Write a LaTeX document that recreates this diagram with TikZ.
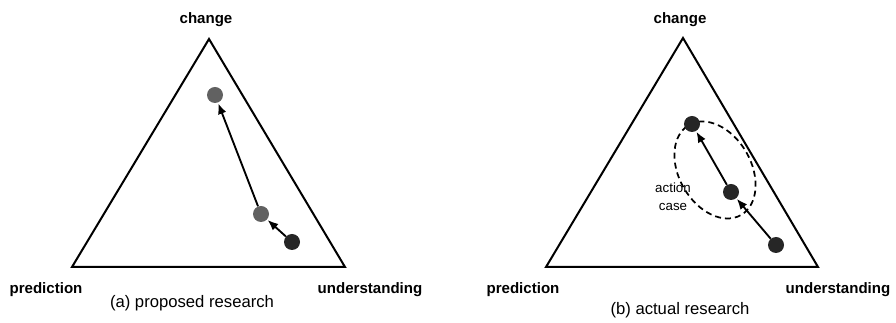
\documentclass[tikz,border=0pt]{standalone}
\usepackage{fontspec}
\setmainfont{Liberation Sans}
\usetikzlibrary{arrows.meta,positioning,calc}

\begin{document}
\begin{tikzpicture}[
        x=0.75pt, y=-0.75pt,
        side/.style={line width=1.5pt, line join=miter},
        corner/.style={font=\fontsize{11.3}{13}\selectfont\bfseries},
        caption/.style={font=\fontsize{12.5}{15}\selectfont},
        dot/.style={circle, minimum size=12pt, inner sep=0pt, fill=black!85},
        pale/.style={dot, fill=black!62},
        link/.style={line width=1.4pt, -{Latex[length=8pt,width=6.5pt]}, shorten >=0.5pt}
    ]
    \useasboundingbox (0,0) rectangle (896,323);

    % (a) proposed research
    \coordinate (aP) at (72,267);
    \coordinate (aU) at (345,267);
    \coordinate (aC) at (209,39);
    \draw[side] (aP) -- (aU) -- (aC) -- cycle;
    \node[corner] (aChange) at (206,20) {change};
    \node[corner] (aPred) at (46,290) {prediction};
    \node[corner] (aUnder) at (370,290) {understanding};
    \node[caption] (aCap) at (192,303) {(a) proposed research};

    \node[dot] (aStart) at (292,242) {};
    \node[pale] (aMid) at (261,214) {};
    \node[pale] (aEnd) at (215,95) {};
    \draw[link] (aStart) -- (aMid);
    \draw[link] (aMid) -- (aEnd);

    % (b) actual research
    \coordinate (bP) at (546,267);
    \coordinate (bU) at (818,267);
    \coordinate (bC) at (683,38);
    \draw[side] (bP) -- (bU) -- (bC) -- cycle;
    \node[corner] (bChange) at (680,20) {change};
    \node[corner] (bPred) at (523,290) {prediction};
    \node[corner] (bUnder) at (838,290) {understanding};
    \node[caption] (bCap) at (680,310) {(b) actual research};

    \coordinate (bLoop) at (715,170);
    \draw[line width=1.3pt, dash pattern=on 4.5pt off 3pt, rotate around={120:(bLoop)}]
        (bLoop) ellipse (52 and 36);
    \node[font=\fontsize{10}{13.5}\selectfont, align=center] (bCase) at (673,197) {action\\case};

    \node[dot] (bStart) at (776,245) {};
    \node[dot] (bMid) at (731,192) {};
    \node[dot] (bEnd) at (692,124) {};
    \draw[link] (bStart) -- (bMid);
    \draw[link] (bMid) -- (bEnd);
\end{tikzpicture}
\end{document}
